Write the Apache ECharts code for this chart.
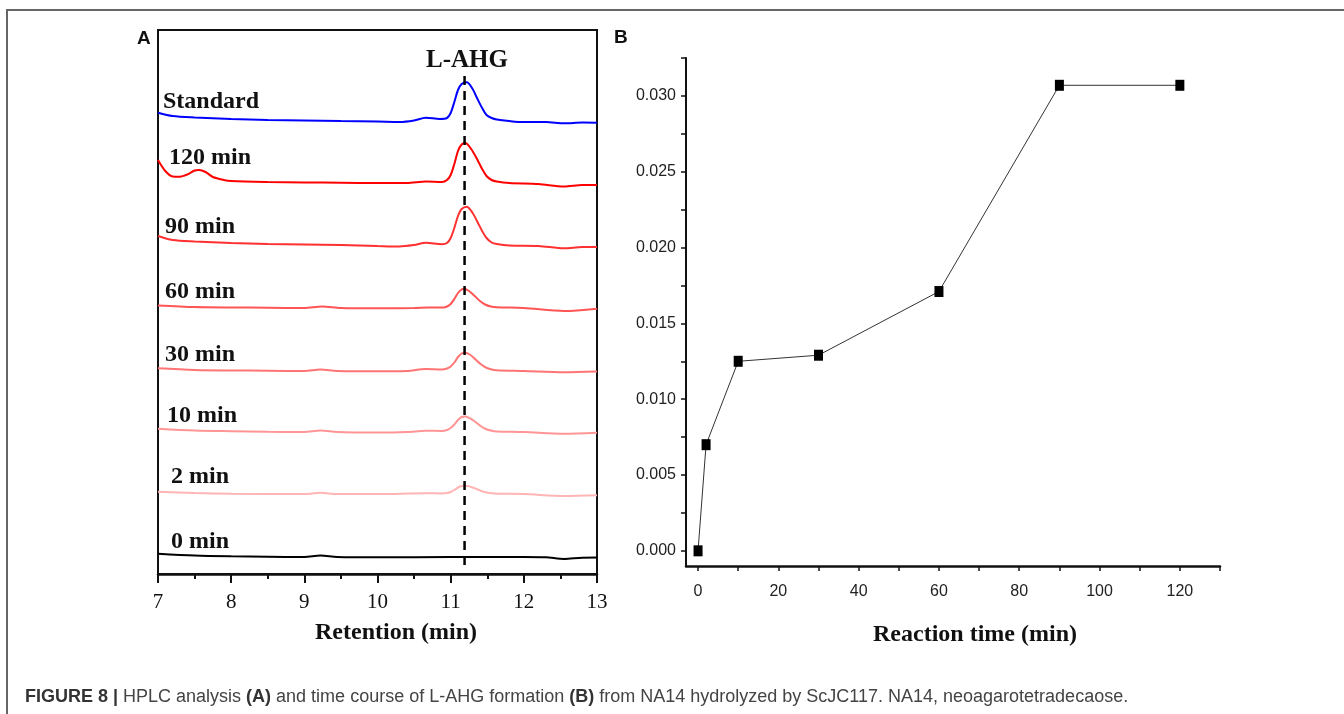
<!DOCTYPE html>
<html>
<head>
<meta charset="utf-8">
<script src="https://cdn.jsdelivr.net/npm/echarts@6/dist/echarts.min.js"></script>
<style>
  html, body { margin: 0; padding: 0; background: #fff; }
  #chart { width: 1344px; height: 714px; }
</style>
</head>
<body>
<div id="chart"></div>
<script>
(function() {
  // ---- Panel A: HPLC traces (retention time in min, signal in arbitrary units)
  const traceNames = ['Standard', '120 min', '90 min', '60 min', '30 min', '10 min', '2 min', '0 min'];
  const traceOffset = [452, 391, 328, 266, 203, 142, 80, 17];
  const peakTime = 11.19;

  const standardSignal = [
    [7.0, 9.3], [7.2, 6], [7.5, 4.5], [8.0, 3], [8.5, 2], [9.0, 1.5], [9.5, 1], [10.0, 0.5],
    [10.3, 0], [10.5, 1.5], [10.66, 4.3], [10.85, 3], [10.95, 4], [11.0, 9], [11.05, 20],
    [11.1, 32], [11.15, 38], [11.22, 39.7], [11.3, 33], [11.36, 24], [11.43, 14], [11.49, 7],
    [11.56, 4], [11.63, 2.5], [11.8, 1], [12.0, 0], [12.3, 0], [12.55, -1.3], [12.8, -0.5], [13.0, -0.7]
  ];
  const signal120 = [
    [7.0, 23], [7.1, 12], [7.2, 6.5], [7.3, 6.3], [7.4, 8.5], [7.5, 12.5], [7.56, 13],
    [7.65, 11], [7.75, 6], [7.9, 3], [8.0, 2], [8.5, 1], [9.0, 0.5], [9.5, 0.3], [10.0, 0],
    [10.4, 0], [10.66, 1.5], [10.88, 1], [10.95, 3], [11.0, 8], [11.05, 19], [11.1, 32],
    [11.15, 38.5], [11.2, 40], [11.28, 34], [11.36, 24], [11.43, 14], [11.49, 7], [11.56, 3],
    [11.63, 1.5], [11.8, 0], [12.2, -1], [12.55, -3.5], [12.8, -2], [13.0, -2]
  ];
  const signal90 = [
    [7.0, 10], [7.2, 6], [7.5, 4.5], [8.0, 3], [8.5, 2], [9.0, 1.5], [9.5, 1], [10.0, 0],
    [10.3, -0.5], [10.5, 1], [10.66, 3.3], [10.88, 1.7], [10.95, 3], [11.0, 8], [11.05, 18],
    [11.1, 30], [11.15, 37], [11.22, 39.3], [11.3, 33], [11.36, 25], [11.43, 15], [11.49, 8],
    [11.56, 3.5], [11.63, 2], [11.8, 0.5], [12.2, 0], [12.55, -2.3], [12.8, -1], [13.0, -1]
  ];
  const signal60 = [
    [7.0, 2.6], [7.5, 1], [8.0, 0.5], [8.5, 0.3], [9.0, 0], [9.24, 1.6], [9.5, 0], [10.0, -0.3],
    [10.5, 0], [10.7, 0.6], [10.9, 0.5], [10.95, 1.5], [11.0, 4], [11.05, 9], [11.1, 15],
    [11.15, 18.5], [11.18, 19.3], [11.25, 17], [11.32, 12.5], [11.4, 7], [11.47, 3.5],
    [11.55, 1.5], [11.63, 0.8], [12.0, 0], [12.55, -3], [13.0, -0.7]
  ];
  const signal30 = [
    [7.0, 2.7], [7.5, 1], [8.0, 0.5], [8.5, 0.3], [9.0, 0], [9.22, 1.6], [9.45, 0], [10.0, -0.3],
    [10.4, 0], [10.66, 2], [10.88, 1.5], [10.95, 2.5], [11.0, 4.5], [11.05, 8.5], [11.1, 14],
    [11.15, 17.5], [11.2, 18.3], [11.27, 16], [11.34, 11.5], [11.41, 7], [11.48, 3.5],
    [11.56, 1.5], [11.63, 0.8], [12.0, 0], [12.55, -1.3], [13.0, -0.5]
  ];
  const signal10 = [
    [7.0, 3.3], [7.5, 1.5], [8.0, 0.8], [8.5, 0.3], [9.0, 0], [9.22, 1.4], [9.45, 0], [10.0, -0.5],
    [10.4, 0], [10.66, 1.3], [10.88, 1], [10.95, 2], [11.0, 4], [11.05, 7.5], [11.1, 12],
    [11.15, 15], [11.2, 15.5], [11.27, 13.5], [11.34, 10], [11.41, 6], [11.48, 3],
    [11.56, 1.3], [11.63, 0.6], [12.0, 0], [12.55, -1.7], [13.0, -0.7]
  ];
  const signal2 = [
    [7.0, 2.3], [7.5, 1], [8.0, 0.3], [9.0, 0], [9.22, 1.2], [9.45, 0], [10.0, 0], [10.66, 0.7],
    [10.88, 0.6], [10.95, 1], [11.0, 2], [11.05, 4], [11.1, 6.5], [11.15, 8], [11.2, 8.3],
    [11.27, 7.3], [11.34, 5.5], [11.41, 3.3], [11.48, 1.7], [11.56, 0.8], [11.63, 0.3],
    [12.0, 0], [12.55, -2], [13.0, -1.3]
  ];
  const signal0 = [
    [7.0, 3.3], [7.5, 1.5], [8.0, 0.7], [8.5, 0.3], [9.0, 0], [9.22, 1.5], [9.45, 0], [10.0, -0.3],
    [11.0, 0], [12.0, 0], [12.3, -0.3], [12.55, -2], [12.8, -0.7], [13.0, -0.6]
  ];
  const traceSignals = [standardSignal, signal120, signal90, signal60, signal30, signal10, signal2, signal0];

  // ---- Panel B: L-AHG time course
  const reactionTime = [0, 2, 10, 30, 60, 90, 120];
  const ahgAmount = [0.0000, 0.0070, 0.0125, 0.0129, 0.0171, 0.0307, 0.0307];
  const timeLabels = [0, 20, 40, 60, 80, 100, 120];
  const timeTicks = [0, 10, 20, 30, 40, 50, 60, 70, 80, 90, 100, 110, 120, 130];
  const amountLabels = [0, 0.005, 0.01, 0.015, 0.02, 0.025, 0.03];
  const amountTicks = [0, 0.0025, 0.005, 0.0075, 0.01, 0.0125, 0.015, 0.0175, 0.02,
    0.0225, 0.025, 0.0275, 0.03, 0.0325];

  // styles
  const traceColors = ['#0000ff', '#ff0000', '#ff3030', '#ff5555', '#ff7575', '#ff9595', '#ffb5b5', '#000000'];
  const labelPos = [[163, 102], [169, 158], [165, 227], [165, 292], [165, 355], [167, 416], [171, 477], [171, 542]];
  const serif = "'Liberation Serif', 'Times New Roman', serif";
  const sans = "'Liberation Sans', Arial, sans-serif";

  const chart = echarts.init(document.getElementById('chart'));

  const series = traceSignals.map(function(sig, i) {
    return {
      type: 'line',
      name: traceNames[i],
      xAxisIndex: 0,
      yAxisIndex: 0,
      data: sig.map(p => [p[0], p[1] + traceOffset[i]]),
      smooth: 0.3,
      showSymbol: false,
      silent: true,
      lineStyle: { color: traceColors[i], width: 2 }
    };
  });

  series.push({
    type: 'line',
    xAxisIndex: 0,
    yAxisIndex: 0,
    data: [[peakTime, 9], [peakTime, 499]],
    showSymbol: false,
    silent: true,
    lineStyle: { color: '#000', width: 2.5, type: [9, 6] }
  });

  series.push({
    type: 'line',
    xAxisIndex: 1,
    yAxisIndex: 1,
    data: reactionTime.map((t, i) => [t, ahgAmount[i]]),
    symbol: 'rect',
    symbolSize: [9, 11],
    itemStyle: { color: '#000' },
    lineStyle: { color: '#333', width: 1 },
    silent: true
  });

  const graphics = [
    {
      type: 'polyline',
      shape: { points: [[7, 714], [7, 10], [1344, 10]] },
      style: { stroke: '#666', lineWidth: 2, fill: null }
    },
    { type: 'text', left: 137, top: 29, style: { text: 'A', font: 'bold 19px ' + sans, fill: '#111' } },
    { type: 'text', left: 614, top: 28, style: { text: 'B', font: 'bold 19px ' + sans, fill: '#111' } },
    {
      type: 'text', x: 467, y: 61,
      style: { text: 'L-AHG', font: 'bold 25px ' + serif, fill: '#111', align: 'center', verticalAlign: 'middle' }
    },
    {
      type: 'text', x: 396, y: 633,
      style: { text: 'Retention (min)', font: 'bold 24px ' + serif, fill: '#111', align: 'center', verticalAlign: 'middle' }
    },
    {
      type: 'text', x: 975, y: 635,
      style: { text: 'Reaction time (min)', font: 'bold 24px ' + serif, fill: '#111', align: 'center', verticalAlign: 'middle' }
    },
    {
      type: 'text', x: 25, y: 697,
      style: {
        text: '{b|FIGURE 8 |} HPLC analysis {b|(A)} and time course of L-AHG formation {b|(B)} from NA14 hydrolyzed by ScJC117. NA14, neoagarotetradecaose.',
        font: '18px ' + sans,
        fill: '#444',
        verticalAlign: 'middle',
        rich: {
          b: { font: 'bold 18px ' + sans, fill: '#333' }
        }
      }
    }
  ];

  traceNames.forEach(function(name, i) {
    graphics.push({
      type: 'text', x: labelPos[i][0], y: labelPos[i][1],
      style: { text: name, font: 'bold 24px ' + serif, fill: '#111', verticalAlign: 'middle' }
    });
  });

  const option = {
    animation: false,
    backgroundColor: '#fff',
    grid: [
      { left: 158, top: 30, width: 439, height: 544, show: true, borderColor: '#111', borderWidth: 2 },
      { left: 686, top: 58, width: 534, height: 508 }
    ],
    xAxis: [
      {
        type: 'value', gridIndex: 0, min: 7, max: 13, interval: 1,
        axisLine: { show: true, onZero: false, lineStyle: { color: '#111', width: 2.5 } },
        axisTick: { show: true, inside: false, length: 9, lineStyle: { color: '#111', width: 2 } },
        minorTick: { show: true, splitNumber: 2, length: 5, lineStyle: { color: '#111', width: 2 } },
        axisLabel: { margin: 18, fontFamily: serif, fontSize: 21, color: '#111' },
        splitLine: { show: false }
      },
      {
        type: 'value', gridIndex: 1, min: -3, max: 130,
        axisLine: { show: true, onZero: false, lineStyle: { color: '#111', width: 2.5 } },
        axisTick: { show: true, length: 5, customValues: timeTicks, lineStyle: { color: '#111', width: 1.5 } },
        axisLabel: { margin: 18, customValues: timeLabels, fontFamily: sans, fontSize: 16, color: '#222' },
        splitLine: { show: false }
      }
    ],
    yAxis: [
      {
        type: 'value', gridIndex: 0, min: 0, max: 544,
        show: false
      },
      {
        type: 'value', gridIndex: 1, min: -0.001, max: 0.0325,
        axisLine: { show: true, onZero: false, lineStyle: { color: '#111', width: 2 } },
        axisTick: { show: true, length: 5, customValues: amountTicks, lineStyle: { color: '#111', width: 1.5 } },
        axisLabel: {
          margin: 10, customValues: amountLabels, fontFamily: sans, fontSize: 16, color: '#222',
          formatter: v => v.toFixed(3)
        },
        splitLine: { show: false }
      }
    ],
    series: series,
    graphic: graphics
  };

  chart.setOption(option);
}());
</script>
</body>
</html>
